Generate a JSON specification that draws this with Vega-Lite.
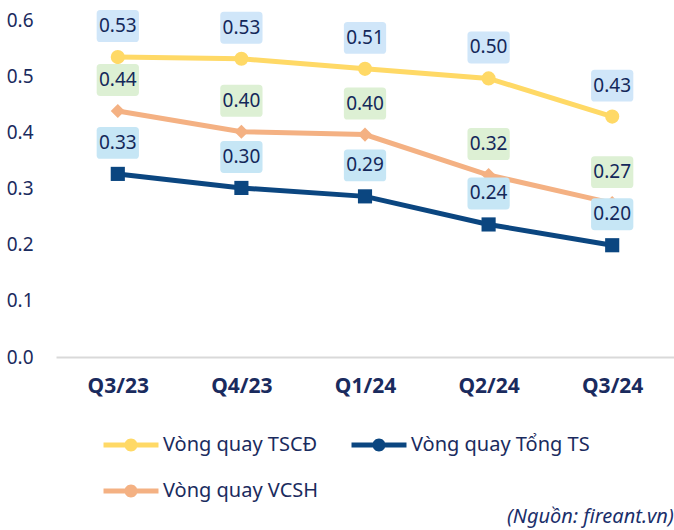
{
  "$schema": "https://vega.github.io/schema/vega-lite/v6.json",
  "width": 618,
  "height": 337,
  "autosize": {"type": "none"},
  "padding": {"left": 56, "top": 20, "right": 0, "bottom": 173},
  "background": "white",
  "config": {
    "view": {"stroke": null},
    "font": "Noto Sans"
  },
  "title": {
    "text": "(Nguồn: fireant.vn)",
    "orient": "bottom",
    "anchor": "start",
    "frame": "group",
    "dx": 451,
    "offset": 6,
    "fontSize": 20,
    "fontStyle": "italic",
    "fontWeight": "normal",
    "color": "#1b2f6b",
    "font": "Noto Sans"
  },
  "data": {
    "values": [
      {"quarter": "Q3/23", "series": "Vòng quay TSCĐ", "value": 0.534},
      {"quarter": "Q4/23", "series": "Vòng quay TSCĐ", "value": 0.531},
      {"quarter": "Q1/24", "series": "Vòng quay TSCĐ", "value": 0.513},
      {"quarter": "Q2/24", "series": "Vòng quay TSCĐ", "value": 0.496},
      {"quarter": "Q3/24", "series": "Vòng quay TSCĐ", "value": 0.428},
      {"quarter": "Q3/23", "series": "Vòng quay VCSH", "value": 0.438},
      {"quarter": "Q4/23", "series": "Vòng quay VCSH", "value": 0.401},
      {"quarter": "Q1/24", "series": "Vòng quay VCSH", "value": 0.396},
      {"quarter": "Q2/24", "series": "Vòng quay VCSH", "value": 0.324},
      {"quarter": "Q3/24", "series": "Vòng quay VCSH", "value": 0.274},
      {"quarter": "Q3/23", "series": "Vòng quay Tổng TS", "value": 0.326},
      {"quarter": "Q4/23", "series": "Vòng quay Tổng TS", "value": 0.301},
      {"quarter": "Q1/24", "series": "Vòng quay Tổng TS", "value": 0.286},
      {"quarter": "Q2/24", "series": "Vòng quay Tổng TS", "value": 0.236},
      {"quarter": "Q3/24", "series": "Vòng quay Tổng TS", "value": 0.199}
    ]
  },
  "encoding": {
    "x": {
      "field": "quarter",
      "type": "ordinal",
      "sort": ["Q3/23", "Q4/23", "Q1/24", "Q2/24", "Q3/24"],
      "scale": {"type": "point", "padding": 0.5},
      "axis": {
        "title": null,
        "labelAngle": 0,
        "labelFontSize": 21,
        "labelFontWeight": "bold",
        "labelColor": "#1a2b5e",
        "labelPadding": 18,
        "ticks": false,
        "domainColor": "#d9d9d9",
        "domainWidth": 2,
        "grid": false
      }
    },
    "y": {
      "field": "value",
      "type": "quantitative",
      "scale": {"domain": [0, 0.6], "nice": false, "zero": true},
      "axis": {
        "title": null,
        "values": [0, 0.1, 0.2, 0.3, 0.4, 0.5, 0.6],
        "format": ".1f",
        "labelFontSize": 19,
        "labelColor": "#1a2b5e",
        "labelPadding": 23,
        "ticks": false,
        "domain": false,
        "grid": false
      }
    }
  },
  "layer": [
    {
      "mark": {"type": "line", "strokeWidth": 5},
      "encoding": {
        "stroke": {
          "field": "series",
          "type": "nominal",
          "scale": {
            "domain": ["Vòng quay VCSH", "Vòng quay TSCĐ", "Vòng quay Tổng TS"],
            "range": ["#F4B183", "#FFD966", "#0B4680"]
          },
          "legend": null
        }
      }
    },
    {
      "mark": {"type": "point", "filled": true, "opacity": 1, "strokeWidth": 0},
      "encoding": {
        "color": {
          "field": "series",
          "type": "nominal",
          "scale": {
            "domain": ["Vòng quay TSCĐ", "Vòng quay Tổng TS", "Vòng quay VCSH"],
            "range": ["#FFD966", "#0B4680", "#F4B183"]
          },
          "legend": {
            "title": null,
            "orient": "none",
            "legendX": 60,
            "legendY": 410,
            "direction": "horizontal",
            "columns": 2,
            "columnPadding": 32,
            "rowPadding": 21,
            "labelFontSize": 20,
            "labelColor": "#1a2b5e",
            "labelFont": "Noto Sans",
            "labelOffset": 17,
            "labelLimit": 300,
            "symbolSize": 900,
            "symbolStrokeWidth": 0,
            "symbolType": "M-1.833,-0.167 L-0.4,-0.167 L-0.4,0.167 L-1.833,0.167 Z M0.4,-0.167 L1.833,-0.167 L1.833,0.167 L0.4,0.167 Z M-0.433,0 A0.433,0.433 0 1,1 0.433,0 A0.433,0.433 0 1,1 -0.433,0 Z"
          }
        },
        "shape": {
          "field": "series",
          "type": "nominal",
          "scale": {
            "domain": ["Vòng quay VCSH", "Vòng quay Tổng TS", "Vòng quay TSCĐ"],
            "range": ["diamond", "square", "circle"]
          },
          "legend": null
        },
        "size": {"value": 200}
      }
    },
    {
      "mark": {
        "type": "point",
        "filled": true,
        "opacity": 1,
        "strokeWidth": 0,
        "yOffset": -31,
        "size": 1700,
        "shape": "M-0.85,-0.775 L0.85,-0.775 Q1.025,-0.775 1.025,-0.6 L1.025,0.6 Q1.025,0.775 0.85,0.775 L-0.85,0.775 Q-1.025,0.775 -1.025,0.6 L-1.025,-0.6 Q-1.025,-0.775 -0.85,-0.775 Z"
      },
      "encoding": {
        "fill": {
          "field": "series",
          "type": "nominal",
          "scale": {
            "domain": ["Vòng quay Tổng TS", "Vòng quay TSCĐ", "Vòng quay VCSH"],
            "range": ["#C6E6F5", "#D0E6F9", "#DDF0D4"]
          },
          "legend": null
        }
      }
    },
    {
      "mark": {
        "type": "text",
        "yOffset": -31,
        "baseline": "middle",
        "align": "center",
        "fontSize": 19,
        "font": "Noto Sans",
        "color": "#14285a"
      },
      "encoding": {
        "text": {"field": "value", "type": "quantitative", "format": ".2f"}
      }
    }
  ]
}
